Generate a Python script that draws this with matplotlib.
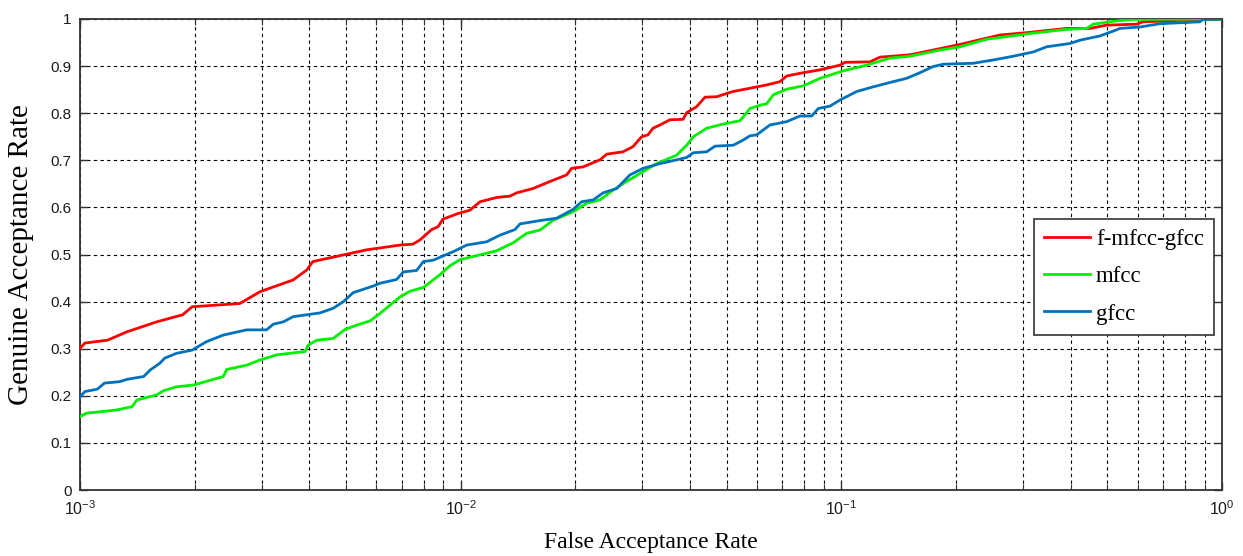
import matplotlib
matplotlib.use("Agg")
import matplotlib.pyplot as plt
from matplotlib.ticker import LogLocator, FixedLocator, NullFormatter

# ---- data ----
red_far = [0.00100, 0.00103, 0.00118, 0.00133, 0.00159, 0.00186, 0.00197, 0.00263,
           0.00297, 0.00363, 0.00394, 0.00409, 0.00491, 0.00567, 0.00693, 0.00749,
           0.00782, 0.00839, 0.00872, 0.00898, 0.00984, 0.01057, 0.01124, 0.01243,
           0.01348, 0.01404, 0.01548, 0.01716, 0.01898, 0.01957, 0.02096, 0.02323,
           0.02418, 0.02669, 0.02835, 0.02988, 0.03105, 0.03200, 0.03338, 0.03546,
           0.03836, 0.03923, 0.04168, 0.04382, 0.04703, 0.05189, 0.05754, 0.06365,
           0.06899, 0.07184, 0.07941, 0.08785, 0.0992, 0.1022, 0.1189, 0.1263,
           0.1514, 0.1740, 0.2049, 0.2610, 0.3067, 0.3907, 0.4498, 0.4976, 0.5968,
           0.6196, 0.7154, 1.0]
red_gar = [0.301, 0.312, 0.318, 0.336, 0.357, 0.372, 0.389, 0.396,
           0.421, 0.446, 0.467, 0.485, 0.499, 0.510, 0.520, 0.522,
           0.531, 0.553, 0.559, 0.575, 0.587, 0.594, 0.612, 0.621,
           0.624, 0.631, 0.640, 0.655, 0.669, 0.683, 0.686, 0.701,
           0.713, 0.718, 0.729, 0.750, 0.754, 0.768, 0.775, 0.786,
           0.787, 0.801, 0.814, 0.834, 0.835, 0.846, 0.853, 0.860,
           0.867, 0.879, 0.886, 0.892, 0.902, 0.908, 0.909, 0.919,
           0.924, 0.934, 0.946, 0.966, 0.971, 0.980, 0.980, 0.987, 0.989,
           0.994, 0.996, 1.0]

green_far = [0.00100, 0.00104, 0.00125, 0.00137, 0.00141, 0.00159, 0.00166, 0.00179,
             0.00199, 0.00238, 0.00243, 0.00274, 0.00297, 0.00329, 0.00390, 0.00398,
             0.00419, 0.00463, 0.00497, 0.00533, 0.00578, 0.00614, 0.00693, 0.00736,
             0.00798, 0.00882, 0.00937, 0.00996, 0.01147, 0.01243, 0.01374, 0.01491,
             0.01616, 0.01751, 0.01976, 0.02143, 0.02323, 0.02516, 0.02729, 0.02958,
             0.03272, 0.03693, 0.03923, 0.04083, 0.04427, 0.04896, 0.05416, 0.05754,
             0.06112, 0.06365, 0.06624, 0.07184, 0.07941, 0.08785, 0.1012, 0.1165,
             0.1342, 0.1514, 0.1816, 0.2049, 0.2408, 0.3187, 0.3907, 0.4409, 0.4588,
             0.5286, 0.5834, 1.0]
green_gar = [0.156, 0.163, 0.170, 0.177, 0.191, 0.202, 0.211, 0.219,
             0.223, 0.241, 0.256, 0.265, 0.276, 0.287, 0.294, 0.308,
             0.318, 0.322, 0.341, 0.350, 0.359, 0.375, 0.410, 0.422,
             0.430, 0.457, 0.476, 0.489, 0.501, 0.508, 0.525, 0.545,
             0.552, 0.573, 0.591, 0.609, 0.616, 0.637, 0.655, 0.672,
             0.693, 0.711, 0.732, 0.750, 0.768, 0.777, 0.784, 0.810,
             0.817, 0.820, 0.839, 0.851, 0.858, 0.874, 0.890, 0.902,
             0.917, 0.921, 0.934, 0.941, 0.957, 0.970, 0.978, 0.980, 0.989,
             0.996, 0.999, 1.0]

blue_far = [0.00100, 0.00103, 0.00111, 0.00116, 0.00127, 0.00133, 0.00147, 0.00153,
            0.00162, 0.00167, 0.00179, 0.00197, 0.00215, 0.00238, 0.00274, 0.00309,
            0.00322, 0.00342, 0.00363, 0.00394, 0.00427, 0.00463, 0.00492, 0.00522,
            0.00589, 0.00614, 0.00679, 0.00707, 0.00766, 0.00798, 0.00847, 0.00956,
            0.01037, 0.01170, 0.01268, 0.01389, 0.01432, 0.01616, 0.01787, 0.01976,
            0.02079, 0.02230, 0.02369, 0.02569, 0.02784, 0.03017, 0.03338, 0.03693,
            0.03923, 0.04083, 0.04427, 0.04656, 0.05200, 0.05524, 0.05754, 0.05992,
            0.06492, 0.07184, 0.07785, 0.08355, 0.08699, 0.09333, 0.0992, 0.1097,
            0.1213, 0.1369, 0.1484, 0.1609, 0.1743, 0.1852, 0.2221, 0.2506, 0.2829,
            0.3192, 0.3462, 0.3986, 0.4235, 0.4779, 0.5286, 0.5393, 0.6085, 0.6869,
            0.8750, 0.8907, 1.0]
blue_gar = [0.198, 0.209, 0.214, 0.227, 0.230, 0.235, 0.241, 0.255,
            0.269, 0.280, 0.290, 0.297, 0.315, 0.329, 0.340, 0.340,
            0.352, 0.357, 0.368, 0.372, 0.376, 0.386, 0.400, 0.419,
            0.433, 0.439, 0.447, 0.463, 0.466, 0.485, 0.488, 0.506,
            0.520, 0.527, 0.541, 0.553, 0.565, 0.572, 0.577, 0.596,
            0.612, 0.616, 0.631, 0.640, 0.669, 0.683, 0.693, 0.701,
            0.706, 0.716, 0.718, 0.730, 0.732, 0.743, 0.752, 0.754,
            0.775, 0.782, 0.794, 0.794, 0.810, 0.815, 0.828, 0.846,
            0.856, 0.867, 0.874, 0.886, 0.899, 0.904, 0.906, 0.913, 0.921,
            0.930, 0.941, 0.948, 0.955, 0.964, 0.977, 0.980, 0.983, 0.990,
            0.994, 0.999, 1.0]

series_labels = ["f-mfcc-gfcc", "mfcc", "gfcc"]
y_ticks = [0, 0.1, 0.2, 0.3, 0.4, 0.5, 0.6, 0.7, 0.8, 0.9, 1]
y_ticklabels = ["0", "0.1", "0.2", "0.3", "0.4", "0.5", "0.6", "0.7", "0.8", "0.9", "1"]

# ---- figure ----
fig = plt.figure(figsize=(12.43, 5.56), dpi=100)
ax = fig.add_axes([80/1243, 66/556, 1142/1243, 471/556])

colors = ["#ff0000", "#00f000", "#0072bd"]
for far, gar, c, lab in zip([red_far, green_far, blue_far],
                            [red_gar, green_gar, blue_gar], colors, series_labels):
    ax.plot(far, gar, color=c, lw=2.0, label=lab, zorder=3)

ax.set_xscale("log")
ax.set_xlim(1e-3, 1)
ax.set_ylim(0, 1)

ax.xaxis.set_major_locator(LogLocator(base=10, numticks=10))
ax.xaxis.set_minor_locator(LogLocator(base=10, subs=range(2, 10), numticks=30))
ax.xaxis.set_minor_formatter(NullFormatter())
ax.yaxis.set_major_locator(FixedLocator(y_ticks))
ax.set_yticklabels(y_ticklabels)

grid_kw = dict(color="black", linestyle=(0, (3, 3)), linewidth=0.8)
ax.grid(True, which="major", axis="both", **grid_kw)
ax.grid(True, which="minor", axis="x", **grid_kw)
ax.set_axisbelow(True)

for s in ax.spines.values():
    s.set_color("#333333")
    s.set_linewidth(1.3)

ax.tick_params(which="both", direction="in", top=True, right=True, color="#333333")
ax.tick_params(which="major", length=6, width=1.0)
ax.tick_params(which="minor", length=4, width=0.8)
ax.tick_params(axis="y", labelsize=11, labelcolor="#1a1a1a", pad=6)
ax.tick_params(axis="x", labelsize=11.5, labelcolor="#1a1a1a", pad=7)
for t in ax.get_xticklabels() + ax.get_yticklabels():
    t.set_family("Liberation Sans")

ax.set_xlabel("False Acceptance Rate", family="Liberation Serif", fontsize=17, labelpad=10)
ax.set_ylabel("Genuine Acceptance Rate", family="Liberation Serif", fontsize=21, labelpad=12)

leg = ax.legend(loc="upper left", bbox_to_anchor=((1034-80)/1142, (490-219)/471),
                prop={"family": "Liberation Serif", "size": 16.5},
                frameon=True, fancybox=False, framealpha=1, edgecolor="#333333",
                handlelength=2.0, handletextpad=0.25, labelspacing=0.7,
                borderpad=0.45, borderaxespad=0)
leg.get_frame().set_linewidth(1.2)

fig.savefig("out.png", dpi=100)
